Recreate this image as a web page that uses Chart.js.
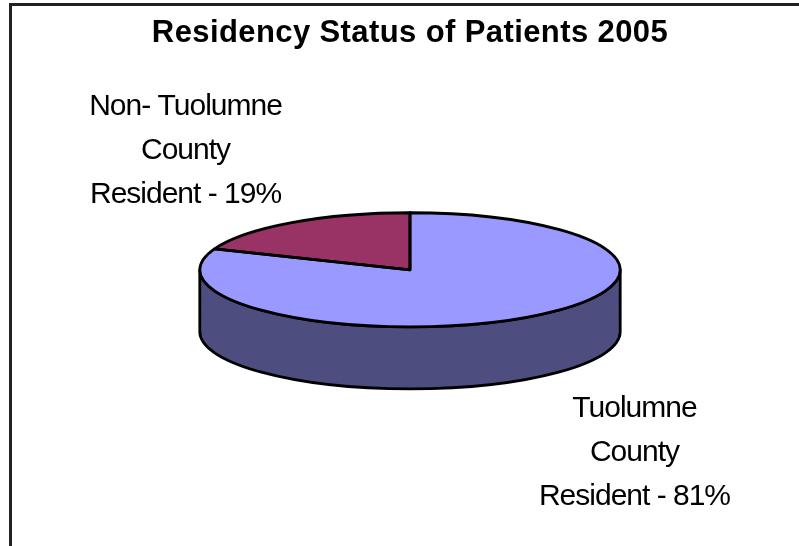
<!DOCTYPE html>
<html>
<head>
<meta charset="utf-8">
<title>Residency Status of Patients 2005</title>
<script src="https://cdn.jsdelivr.net/npm/chart.js@4.4.1/dist/chart.umd.min.js"></script>
<style>
    body { margin: 0; background: #fff; overflow: hidden; }
    #wrap { position: absolute; left: 0; top: 0; width: 799px; height: 546px; }
    #frame { position: absolute; left: 9px; top: 3px; width: 900px; height: 700px; border: 3px solid #222; pointer-events: none; }
</style>
</head>
<body>
<div id="wrap"><canvas id="pieChart"></canvas></div>
<div id="frame"></div>
<script>
// Data
const categories = [['Tuolumne', 'County', 'Resident'], ['Non- Tuolumne', 'County', 'Resident']];
const values = [81, 19];
const topColors = ['#9999FF', '#993366'];
const sideColors = ['#4D4D80', '#4D1933'];

const DEPTH = 62;          // height of the 3D wall
const SQUASH = 57 / 210;   // tilt: ellipse ry / rx
const FONT = '"Liberation Sans", Arial, sans-serif';

// parts of [s, e] that face the viewer (lower half of the ellipse)
function frontRanges(s, e) {
    const out = [];
    for (let k = -1; k <= 1; k++) {
        const a = Math.max(s, k * 2 * Math.PI), b = Math.min(e, k * 2 * Math.PI + Math.PI);
        if (b > a) out.push([a, b]);
    }
    return out;
}

function squash(ctx, x, y) {
    ctx.translate(x, y);
    ctx.scale(1, SQUASH);
    ctx.translate(-x, -y);
}

const pie3d = {
    id: 'pie3d',
    beforeDraw(chart) { chart.ctx.letterSpacing = '0.4px'; },
    beforeDatasetsDraw(chart) {
        const ctx = chart.ctx;
        ctx.letterSpacing = '0px';
        const arcs = chart.getDatasetMeta(0).data;
        ctx.save();
        ctx.lineWidth = 2.8;
        ctx.lineJoin = 'round';
        ctx.strokeStyle = '#000';
        arcs.forEach((arc, i) => {
            const rx = arc.outerRadius, ry = rx * SQUASH;
            frontRanges(arc.startAngle, arc.endAngle).forEach(([a1, a2]) => {
                ctx.beginPath();
                ctx.ellipse(arc.x, arc.y, rx, ry, 0, a1, a2);
                ctx.lineTo(arc.x + rx * Math.cos(a2), arc.y + ry * Math.sin(a2) + DEPTH);
                ctx.ellipse(arc.x, arc.y + DEPTH, rx, ry, 0, a2, a1, true);
                ctx.closePath();
                ctx.fillStyle = sideColors[i];
                ctx.fill();
                ctx.stroke();
            });
        });
        ctx.restore();
        // top face: let the library draw the slices flattened
        const a0 = arcs[0];
        ctx.save();
        squash(ctx, a0.x, a0.y);
    },
    afterDatasetsDraw(chart) {
        const ctx = chart.ctx;
        ctx.restore();
        const arcs = chart.getDatasetMeta(0).data;
        arcs.forEach(arc => {
            ctx.save();
            squash(ctx, arc.x, arc.y);
            ctx.beginPath();
            ctx.moveTo(arc.x, arc.y);
            ctx.arc(arc.x, arc.y, arc.outerRadius, arc.startAngle, arc.endAngle);
            ctx.closePath();
            ctx.restore();
            ctx.lineWidth = 2.8;
            ctx.lineJoin = 'round';
            ctx.strokeStyle = '#000';
            ctx.stroke();
        });
    },
    afterDraw(chart) {
        const ctx = chart.ctx;
        const arcs = chart.getDatasetMeta(0).data;
        ctx.save();
        ctx.font = '30px ' + FONT;
        ctx.letterSpacing = '-1px';
        ctx.fillStyle = '#000';
        ctx.textAlign = 'center';
        ctx.textBaseline = 'alphabetic';
        arcs.forEach((arc, i) => {
            const mid = (arc.startAngle + arc.endAngle) / 2;
            const rx = arc.outerRadius, ry = rx * SQUASH;
            const lx = arc.x + Math.cos(mid) * rx * 1.9;
            let ly = arc.y + Math.sin(mid) * ry * 2.35;
            if (Math.sin(mid) > 0) ly += DEPTH + 18;
            const lines = categories[i].slice();
            lines[lines.length - 1] += ' - ' + values[i] + '%';
            lines.forEach((t, k) => ctx.fillText(t, lx, ly + (k - 1) * 44));
        });
        ctx.restore();
    }
};

const ctxPie = document.getElementById('pieChart').getContext('2d');
const pieChartInstance = new Chart(ctxPie, {
    type: 'pie',
    data: {
        labels: categories.map(c => c.join(' ')),
        datasets: [{ data: values, backgroundColor: topColors, borderWidth: 0 }]
    },
    options: {
        responsive: true,
        maintainAspectRatio: false,
        animation: false,
        events: [],
        layout: { padding: { top: 0, left: 21, right: 0, bottom: 66 } },
        plugins: {
            legend: { display: false },
            tooltip: { enabled: false },
            title: {
                display: true,
                text: 'Residency Status of Patients 2005',
                color: '#000',
                font: { family: FONT, size: 31, weight: 'bold' },
                padding: { top: 15, bottom: 7.4 }
            }
        }
    },
    plugins: [pie3d]
});
</script>
</body>
</html>
